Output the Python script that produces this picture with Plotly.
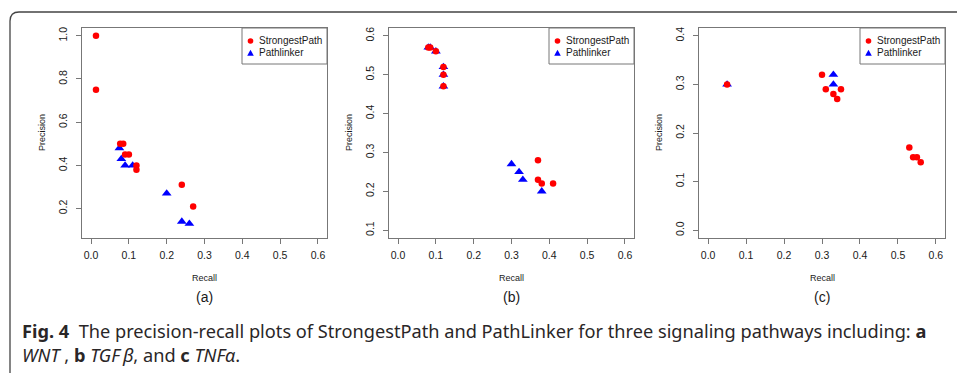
import plotly.graph_objects as go

# ---------------- data ----------------
panel_labels = ["(a)", "(b)", "(c)"]
series_names = ["StrongestPath", "Pathlinker"]

# (a) WNT
a_sp_recall = [0.013, 0.013, 0.077, 0.085, 0.09, 0.10, 0.12, 0.12, 0.24, 0.27]
a_sp_precision = [1.00, 0.75, 0.50, 0.50, 0.45, 0.45, 0.40, 0.38, 0.31, 0.21]
a_pl_recall = [0.075, 0.08, 0.09, 0.11, 0.20, 0.24, 0.26]
a_pl_precision = [0.48, 0.43, 0.40, 0.40, 0.27, 0.14, 0.13]

# (b) TGF beta
b_sp_recall = [0.08, 0.085, 0.10, 0.12, 0.12, 0.12, 0.37, 0.37, 0.38, 0.41]
b_sp_precision = [0.57, 0.57, 0.56, 0.52, 0.50, 0.47, 0.28, 0.23, 0.22, 0.22]
b_pl_recall = [0.08, 0.085, 0.10, 0.12, 0.12, 0.12, 0.30, 0.32, 0.33, 0.38]
b_pl_precision = [0.57, 0.57, 0.56, 0.52, 0.50, 0.47, 0.27, 0.25, 0.23, 0.20]

# (c) TNF alpha
c_sp_recall = [0.05, 0.30, 0.31, 0.33, 0.34, 0.35, 0.53, 0.54, 0.55, 0.56]
c_sp_precision = [0.30, 0.32, 0.29, 0.28, 0.27, 0.29, 0.17, 0.15, 0.15, 0.14]
c_pl_recall = [0.05, 0.33, 0.33]
c_pl_precision = [0.30, 0.32, 0.30]

x_ticks = [0.0, 0.1, 0.2, 0.3, 0.4, 0.5, 0.6]
y_ticks = [
    [0.2, 0.4, 0.6, 0.8, 1.0],
    [0.1, 0.2, 0.3, 0.4, 0.5, 0.6],
    [0.0, 0.1, 0.2, 0.3, 0.4],
]
y_limits = [(0.1, 1.0), (0.1, 0.6), (0.0, 0.4)]
x_limits = (0.0, 0.6)

panels = [
    (a_sp_recall, a_sp_precision, a_pl_recall, a_pl_precision),
    (b_sp_recall, b_sp_precision, b_pl_recall, b_pl_precision),
    (c_sp_recall, c_sp_precision, c_pl_recall, c_pl_precision),
]

# ---------------- layout helpers ----------------
W, H = 957, 373
def px(x):
    return x / W
def py(y):
    return 1 - y / H

boxes = [(82, 327), (389, 634), (699, 945)]
TOP, BOT = 28, 238
RED = "#ff0000"
BLUE = "#0000ff"
AXC = "#777777"
TXT = "#1a1a1a"
FONT = "Liberation Sans, Arial, sans-serif"

def pad(lo, hi):
    d = (hi - lo) * 0.04
    return [lo - d, hi + d]

fig = go.Figure()
layout = dict(
    width=W, height=H, margin=dict(l=0, r=0, t=0, b=0),
    paper_bgcolor="white", plot_bgcolor="white", showlegend=False,
    font=dict(family=FONT, color=TXT),
)
shapes = []
annotations = []

for i, (sp_x, sp_y, pl_x, pl_y) in enumerate(panels):
    n = "" if i == 0 else str(i + 1)
    xa, ya = "x" + n, "y" + n
    fig.add_trace(go.Scatter(
        x=pl_x, y=pl_y, mode="markers", name=series_names[1],
        marker=dict(symbol="triangle-up", size=8.5, color=BLUE, line=dict(width=0)),
        xaxis=xa, yaxis=ya, cliponaxis=False))
    fig.add_trace(go.Scatter(
        x=sp_x, y=sp_y, mode="markers", name=series_names[0],
        marker=dict(symbol="circle", size=6.5, color=RED, line=dict(width=0)),
        xaxis=xa, yaxis=ya, cliponaxis=False))

    x0, x1 = boxes[i]
    layout["xaxis" + n] = dict(
        domain=[px(x0), px(x1)], anchor=ya, range=pad(*x_limits),
        tickvals=x_ticks, ticktext=["%.1f" % v for v in x_ticks],
        ticks="outside", ticklen=5, tickcolor=AXC, tickwidth=1,
        showline=True, linecolor=AXC, linewidth=1, mirror=True,
        showgrid=False, zeroline=False, tickfont=dict(size=10.5, color=TXT),
        ticklabelstandoff=2,
    )
    layout["yaxis" + n] = dict(
        domain=[py(BOT), py(TOP)], anchor=xa, range=pad(*y_limits[i]),
        tickvals=y_ticks[i], ticktext=["%.1f" % v for v in y_ticks[i]],
        ticks="outside", ticklen=5, tickcolor=AXC, tickwidth=1,
        showline=True, linecolor=AXC, linewidth=1, mirror=True,
        showgrid=False, zeroline=False, tickfont=dict(size=10.5, color=TXT),
        tickangle=-90, ticklabelstandoff=5,
    )
    cx = (x0 + x1) / 2
    annotations.append(dict(text="Recall", x=px(cx), y=py(278), xref="paper", yref="paper",
                            showarrow=False, font=dict(size=9, color=TXT), xanchor="center", yanchor="middle"))
    annotations.append(dict(text="Precision", x=px(x0 - 40), y=py((TOP + BOT) / 2), xref="paper", yref="paper",
                            showarrow=False, textangle=-90, font=dict(size=9, color=TXT),
                            xanchor="center", yanchor="middle"))
    annotations.append(dict(text=panel_labels[i], x=px(cx), y=py(297), xref="paper", yref="paper",
                            showarrow=False, font=dict(size=14, color=TXT), xanchor="center", yanchor="middle"))

    # legend box
    lx0, ly0, ly1 = x1 - 85, TOP, TOP + 36
    shapes.append(dict(type="rect", xref="paper", yref="paper", x0=px(lx0), x1=px(x1),
                       y0=py(ly1), y1=py(ly0), line=dict(color=AXC, width=1), fillcolor="white"))
    mx = lx0 + 8.5
    r = 2.8
    shapes.append(dict(type="circle", xref="paper", yref="paper", x0=px(mx - r), x1=px(mx + r),
                       y0=py(41 + r), y1=py(41 - r), line=dict(width=0), fillcolor=RED))
    ty = 53
    path = "M %f,%f L %f,%f L %f,%f Z" % (px(mx - 3.3), py(ty + 2.8), px(mx + 3.3), py(ty + 2.8), px(mx), py(ty - 3.2))
    shapes.append(dict(type="path", xref="paper", yref="paper", path=path, line=dict(width=0), fillcolor=BLUE))
    for lbl, yy in zip(series_names, [41, 53]):
        annotations.append(dict(text=lbl, x=px(mx + 6), y=py(yy), xref="paper", yref="paper",
                                showarrow=False, font=dict(size=10, color=TXT), xanchor="left", yanchor="middle"))

# outer frame (rounded corner at top-left)
fr = "M %f,%f L %f,%f Q %f,%f %f,%f L %f,%f" % (
    px(970), py(12), px(19), py(12), px(10), py(12), px(10), py(21), px(10), py(380))
shapes.append(dict(type="path", xref="paper", yref="paper", path=fr, line=dict(color="#444444", width=1.3)))

CAP = "Noto Sans, Open Sans, sans-serif"
annotations.append(dict(
    text="<b>Fig. 4</b>  The precision-recall plots of StrongestPath and PathLinker for three signaling pathways including: <b>a</b>",
    x=px(20), y=py(331), xref="paper", yref="paper", showarrow=False, xanchor="left", yanchor="middle",
    font=dict(family=CAP, size=18.2, color="#2a2627")))
annotations.append(dict(
    text="<i>WNT</i> , <b>b</b> <i>TGF\u2009\u03b2</i>, and <b>c</b> <i>TNF\u03b1</i>.",
    x=px(20), y=py(355), xref="paper", yref="paper", showarrow=False, xanchor="left", yanchor="middle",
    font=dict(family=CAP, size=18.2, color="#2a2627")))

layout["shapes"] = shapes
layout["annotations"] = annotations
fig.update_layout(**layout)
fig.write_html("out.html", config={"displayModeBar": False},
               post_script="document.body.style.margin='0';")
